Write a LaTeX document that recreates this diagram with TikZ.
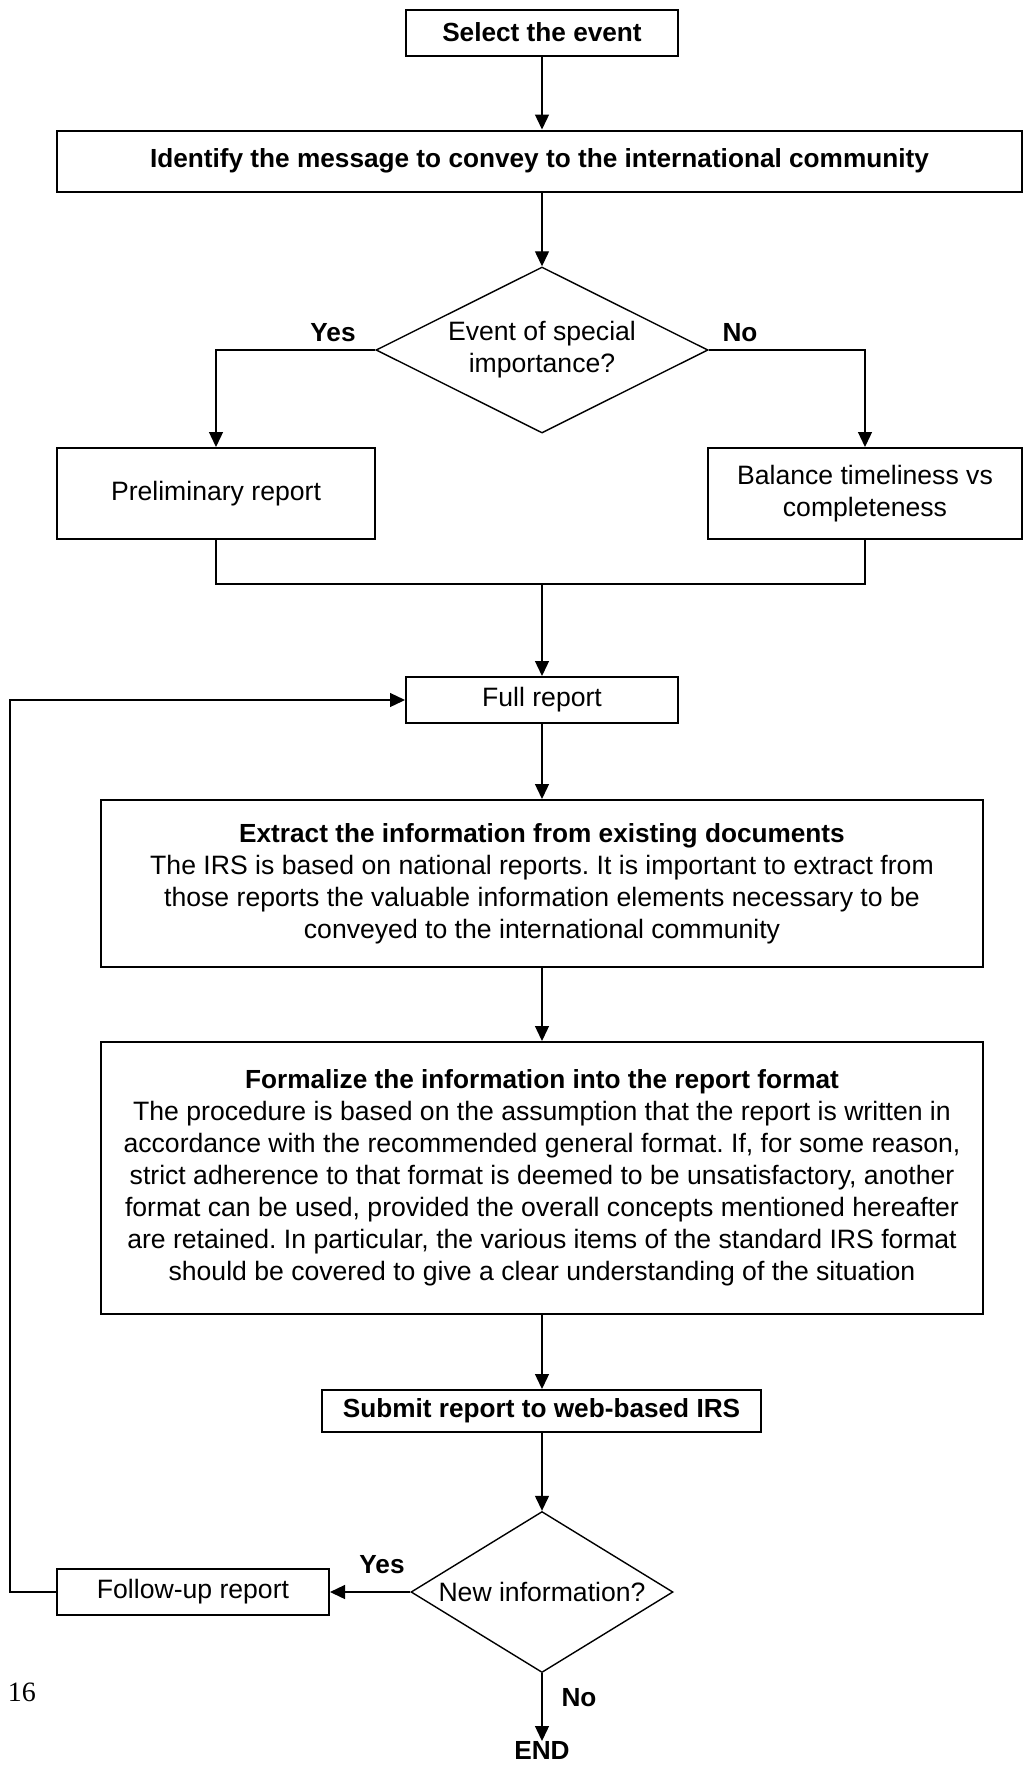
\documentclass[tikz,border=0pt]{standalone}
\usepackage{fontspec}
\setmainfont{Liberation Sans}
\newfontfamily\pagenumfont{Liberation Serif}
\usetikzlibrary{shapes.geometric,arrows.meta}
\begin{document}
\frenchspacing
\begin{tikzpicture}[x=1pt,y=-1pt,
  txt/.style={font=\fontsize{26.6}{32}\selectfont},
  bold/.style={font=\fontsize{26.2}{32}\selectfont\bfseries},
  box/.style={txt, draw, line width=2pt, inner sep=0pt, align=center},
  dia/.style={txt, draw, line width=1.4pt, diamond, aspect=2, inner sep=0pt, align=center},
  lbl/.style={bold, inner sep=0pt},
  conn/.style={line width=1.3pt},
  arr/.style={conn, -{Triangle[length=15pt,width=14pt]}}
]
\useasboundingbox (0,0) rectangle (1023,1765);

\node[box, bold, minimum width=272pt, minimum height=46pt] (sel) at (542,32.5) {Select the event};
\node[box, bold, minimum width=965pt, minimum height=61pt] (ident) at (539.5,161) {Identify the message to convey to the international community};
\node[dia, minimum width=332pt, minimum height=166pt] (d1) at (542,350) {Event of special\\importance?};
\node[box, minimum width=318pt, minimum height=91pt] (prelim) at (216,493.5) {Preliminary report};
\node[box, minimum width=314pt, minimum height=91pt] (bal) at (865,493.5) {Balance timeliness vs\\completeness};
\node[box, minimum width=272pt, minimum height=46pt] (full) at (542,700) {Full report};
\node[box, minimum width=882pt, minimum height=167pt] (extract) at (542,883.5) {{\fontsize{26.2}{32}\selectfont\bfseries Extract the information from existing documents}\\
The IRS is based on national reports. It is important to extract from\\
those reports the valuable information elements necessary to be\\
conveyed to the international community};
\node[box, minimum width=882pt, minimum height=272pt] (formal) at (542,1178) {{\fontsize{26.2}{32}\selectfont\bfseries Formalize the information into the report format}\\
The procedure is based on the assumption that the report is written in\\
accordance with the recommended general format. If, for some reason,\\
strict adherence to that format is deemed to be unsatisfactory, another\\
format can be used, provided the overall concepts mentioned hereafter\\
are retained. In particular, the various items of the standard IRS format\\
should be covered to give a clear understanding of the situation};
\node[box, bold, minimum width=439pt, minimum height=42pt] (submit) at (541.5,1411) {Submit report to web-based IRS};
\node[dia, minimum width=262pt, minimum height=161pt] (d2) at (542,1592) {New information?};
\node[box, minimum width=272pt, minimum height=46pt] (follow) at (193,1592) {Follow-up report};
\node[lbl, anchor=north] (endn) at (542,1741) {END};

\node[lbl] (yes1) at (333,333) {Yes};
\node[lbl] (no1) at (740,333) {No};
\node[lbl] (yes2) at (382,1565) {Yes};
\node[lbl] (no2) at (579,1698) {No};
\node[inner sep=0pt, font=\fontsize{28}{32}\pagenumfont] (pg) at (22,1692) {16};

\coordinate (merge) at (542,584);
\coordinate (loop) at (10,1592);

\draw[arr] (sel.south) -- (sel.south |- ident.north);
\draw[arr] (ident.south -| d1.north) -- (d1.north);
\draw[arr] (d1.west) -| (prelim.north);
\draw[arr] (d1.east) -| (bal.north);
\draw[conn] (prelim.south) |- (merge) -| (bal.south);
\draw[arr] (merge) -- (full.north);
\draw[arr] (full.south) -- (extract.north -| full.south);
\draw[arr] (extract.south -| d1.north) -- (formal.north -| d1.north);
\draw[arr] (formal.south -| d1.north) -- (submit.north -| d1.north);
\draw[arr] (submit.south -| d2.north) -- (d2.north);
\draw[arr] (d2.west) -- (follow.east);
\draw[arr] (follow.west) -- (loop) |- (full.west);
\draw[arr] (d2.south) -- (endn.north);
\end{tikzpicture}
\end{document}
